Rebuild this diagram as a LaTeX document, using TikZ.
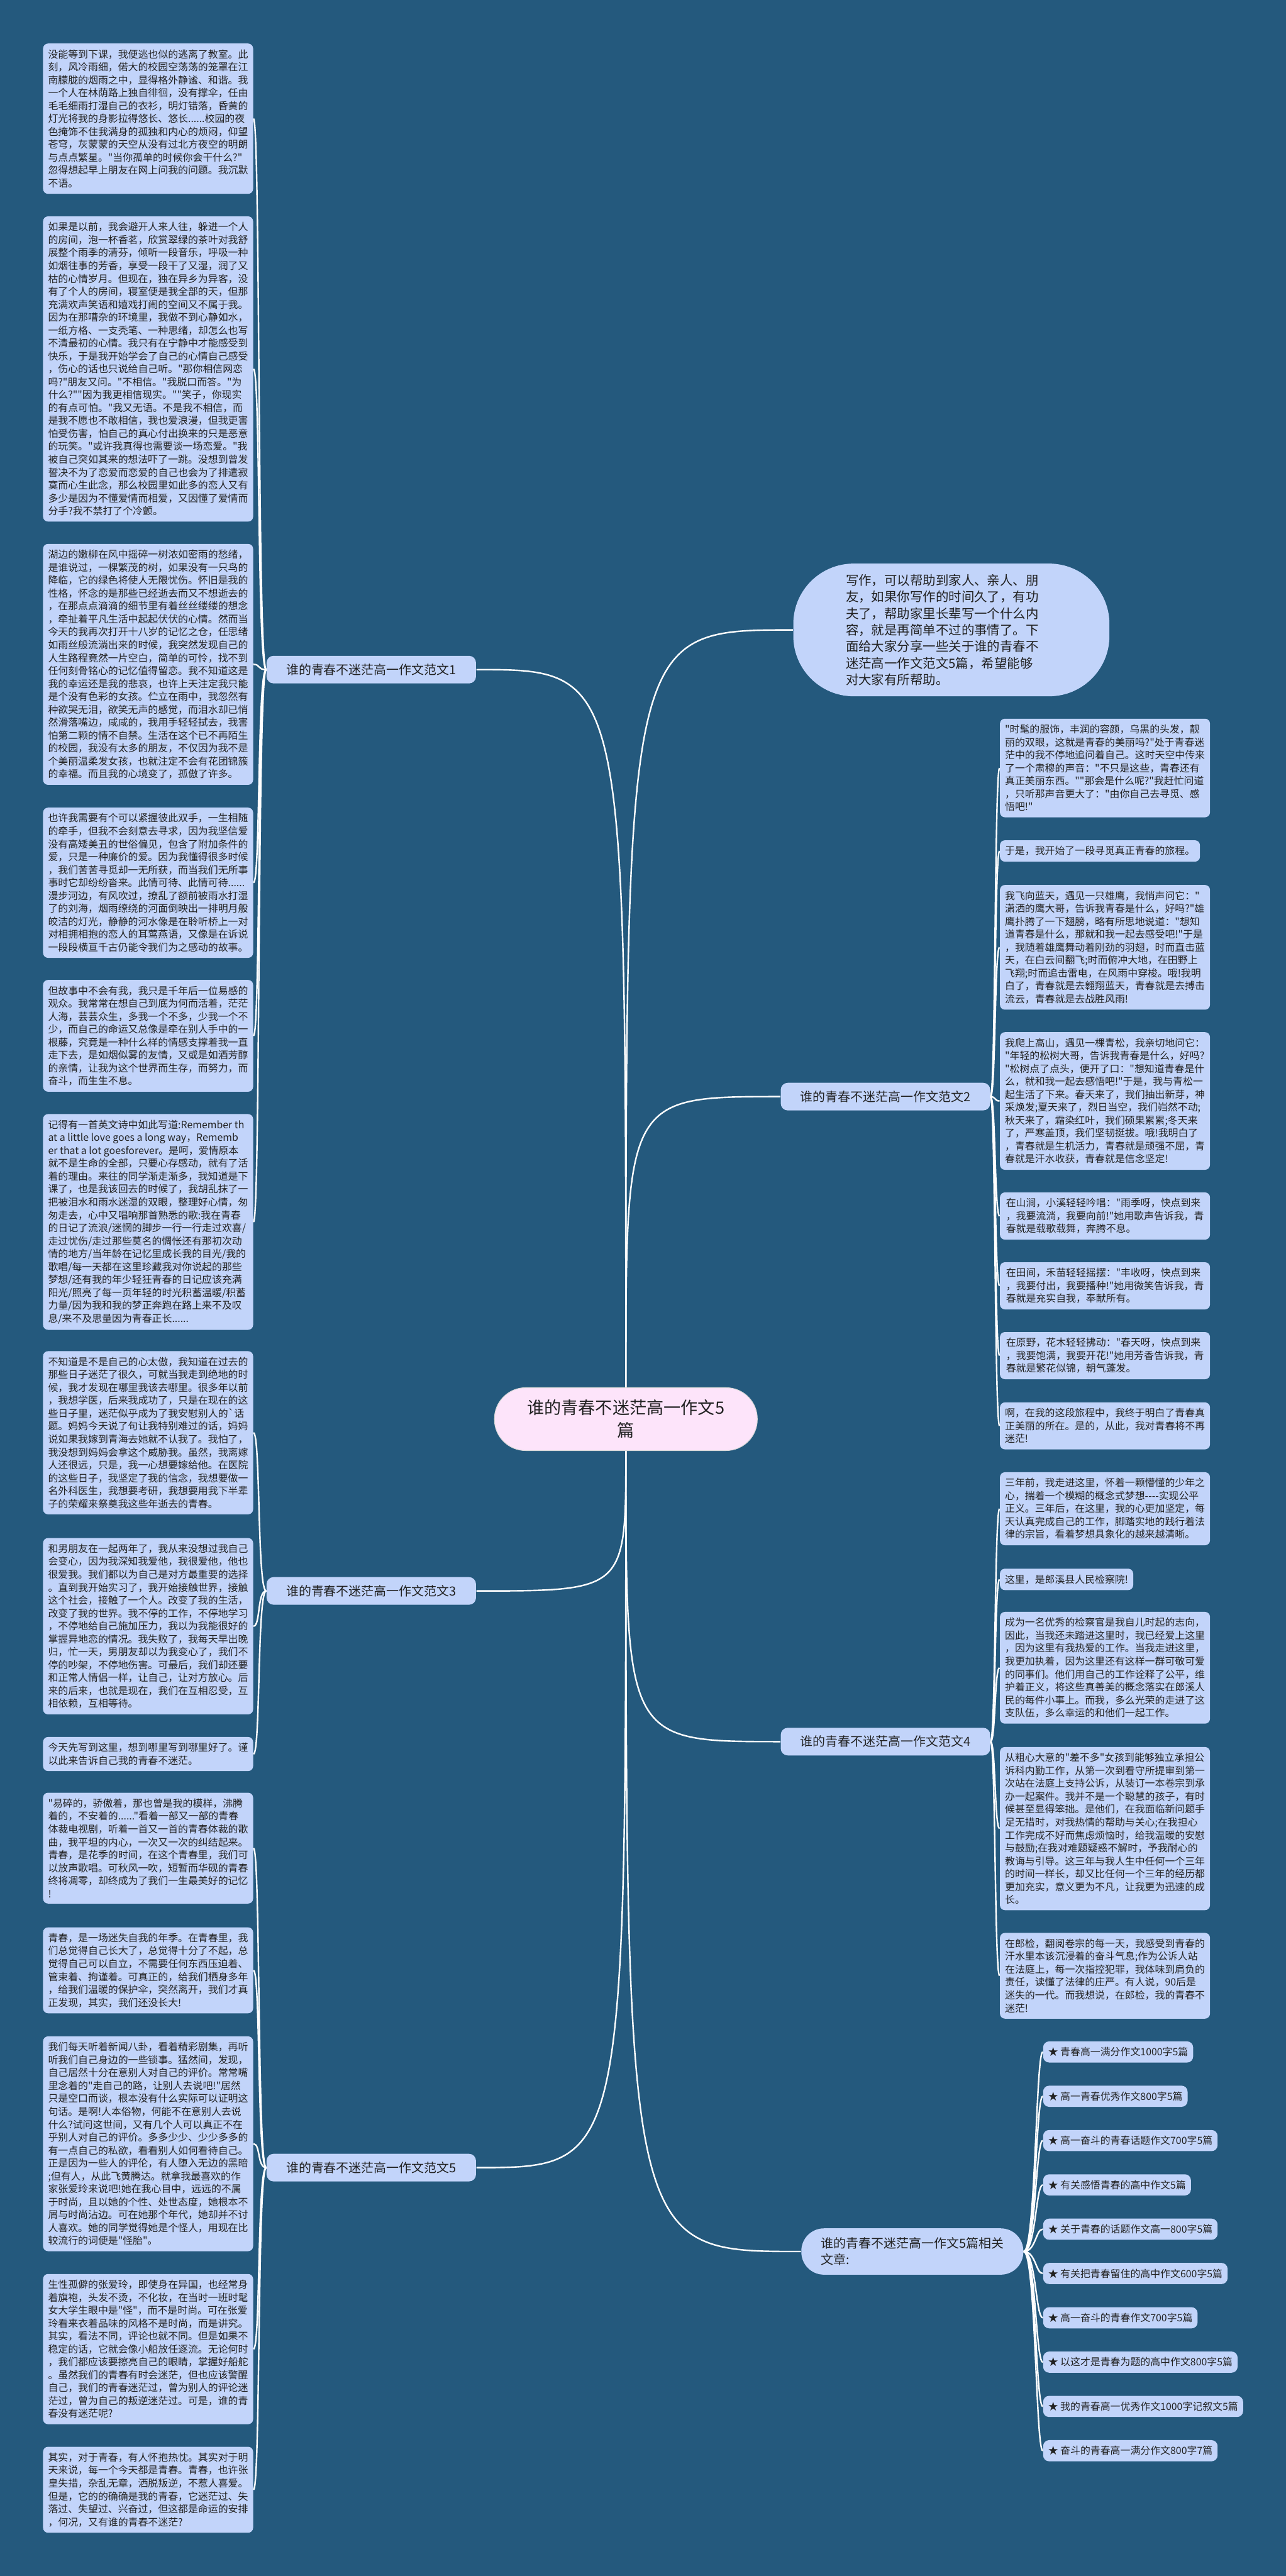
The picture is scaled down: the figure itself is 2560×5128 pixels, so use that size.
\documentclass[tikz,border=0pt]{standalone}
\usepackage{fontspec}
\newfontfamily\cjk{Noto Sans CJK SC}
\usetikzlibrary{positioning}
\definecolor{mapblue}{RGB}{36,89,125}
\definecolor{leafblue}{RGB}{194,212,250}
\definecolor{titlepink}{RGB}{253,228,250}
\definecolor{inkgray}{RGB}{34,34,34}
\newcommand{\leaffont}{\cjk\fontsize{5.66pt}{7.31pt}\selectfont}
\newcommand{\labelfont}{\cjk\fontsize{7.11pt}{9.39pt}\selectfont}
\newcommand{\introfont}{\cjk\fontsize{7.28pt}{9.39pt}\selectfont}
\newcommand{\titlefont}{\cjk\fontsize{9.67pt}{12.8pt}\selectfont}

\tikzset{
  leaf/.style={fill=leafblue, text=inkgray, rounded corners=0.1cm, align=left, font=\leaffont,
    inner xsep=0.1cm, inner ysep=0.118cm, minimum width=4.18cm, anchor=north west},
  leafshort/.style={leaf, minimum width=0pt},
  staritem/.style={leafshort, rounded corners=0.12cm},
  branch/.style={fill=leafblue, text=inkgray, rounded corners=0.14cm, font=\labelfont,
    inner xsep=0.39cm, minimum height=0.55cm},
  link/.style={draw=white, line width=0.03cm},
}

\begin{document}
\begin{tikzpicture}[x=0.01cm, y=-0.01cm]
    \useasboundingbox (0,0) rectangle (2560,5128);
    \fill[mapblue] (0,0) rectangle (2560,5128);

    % centre and introduction
    \node[fill=titlepink, draw=gray!30, text=inkgray, font=\titlefont, align=center,
      minimum width=5.23cm, minimum height=1.25cm, rounded corners=0.62cm] (titleNode) at (1246,2825)
      {谁的青春不迷茫高一作文5\\篇};
    \node[fill=leafblue, text=inkgray, font=\introfont, align=left, text width=4.2cm,
      minimum width=6.29cm, minimum height=2.64cm, rounded corners=1.2cm] (introNode) at (1894,1254)
      {写作，可以帮助到家人、亲人、朋\\友，如果你写作的时间久了，有功\\夫了，帮助家里长辈写一个什么内\\容，就是再简单不过的事情了。下\\面给大家分享一些关于谁的青春不\\迷茫高一作文范文5篇，希望能够\\对大家有所帮助。};

    % branch labels
    \node[branch, anchor=west] (fwLabel-1) at (530,1333) {谁的青春不迷茫高一作文范文1};
    \node[branch, anchor=west] (fwLabel-3) at (530,3167) {谁的青春不迷茫高一作文范文3};
    \node[branch, anchor=west] (fwLabel-5) at (530,4315) {谁的青春不迷茫高一作文范文5};
    \node[branch, anchor=east] (fwLabel-2) at (1972,2183) {谁的青春不迷茫高一作文范文2};
    \node[branch, anchor=east] (fwLabel-4) at (1972,3467) {谁的青春不迷茫高一作文范文4};
    \node[branch, anchor=east, align=left, rounded corners=0.45cm, inner ysep=0.18cm] (relLabel) at (2038,4482)
      {谁的青春不迷茫高一作文5篇相关\\文章:};

    % left column
    \node[leaf] (lb-1) at (85,86) {没能等到下课，我便逃也似的逃离了教室。此\\
刻，风冷雨细，偌大的校园空荡荡的笼罩在江\\
南朦胧的烟雨之中，显得格外静谧、和谐。我\\
一个人在林荫路上独自徘徊，没有撑伞，任由\\
毛毛细雨打湿自己的衣衫，明灯错落，昏黄的\\
灯光将我的身影拉得悠长、悠长......校园的夜\\
色掩饰不住我满身的孤独和内心的烦闷，仰望\\
苍穹，灰蒙蒙的天空从没有过北方夜空的明朗\\
与点点繁星。"当你孤单的时候你会干什么?"\\
忽得想起早上朋友在网上问我的问题。我沉默\\
不语。};
    \node[leaf] (lb-2) at (85,430) {如果是以前，我会避开人来人往，躲进一个人\\
的房间，泡一杯香茗，欣赏翠绿的茶叶对我舒\\
展整个雨季的清芬，倾听一段音乐，呼吸一种\\
如烟往事的芳香，享受一段干了又湿，润了又\\
枯的心情岁月。但现在，独在异乡为异客，没\\
有了个人的房间，寝室便是我全部的天，但那\\
充满欢声笑语和嬉戏打闹的空间又不属于我。\\
因为在那嘈杂的环境里，我做不到心静如水，\\
一纸方格、一支秃笔、一种思绪，却怎么也写\\
不清最初的心情。我只有在宁静中才能感受到\\
快乐，于是我开始学会了自己的心情自己感受\\
，伤心的话也只说给自己听。"那你相信网恋\\
吗?"朋友又问。"不相信。"我脱口而答。"为\\
什么?""因为我更相信现实。""笑子，你现实\\
的有点可怕。"我又无语。不是我不相信，而\\
是我不愿也不敢相信，我也爱浪漫，但我更害\\
怕受伤害，怕自己的真心付出换来的只是恶意\\
的玩笑。"或许我真得也需要谈一场恋爱。"我\\
被自己突如其来的想法吓了一跳。没想到曾发\\
誓决不为了恋爱而恋爱的自己也会为了排遣寂\\
寞而心生此念，那么校园里如此多的恋人又有\\
多少是因为不懂爱情而相爱，又因懂了爱情而\\
分手?我不禁打了个冷颤。};
    \node[leaf] (lb-3) at (85,1082) {湖边的嫩柳在风中摇碎一树浓如密雨的愁绪，\\
是谁说过，一棵繁茂的树，如果没有一只鸟的\\
降临，它的绿色将使人无限忧伤。怀旧是我的\\
性格，怀念的是那些已经逝去而又不想逝去的\\
，在那点点滴滴的细节里有着丝丝缕缕的想念\\
，牵扯着平凡生活中起起伏伏的心情。然而当\\
今天的我再次打开十八岁的记忆之仓，任思绪\\
如雨丝般流淌出来的时候，我突然发现自己的\\
人生路程竟然一片空白，简单的可怜，找不到\\
任何刻骨铭心的记忆值得留恋。我不知道这是\\
我的幸运还是我的悲哀，也许上天注定我只能\\
是个没有色彩的女孩。伫立在雨中，我忽然有\\
种欲哭无泪，欲笑无声的感觉，而泪水却已悄\\
然滑落嘴边，咸咸的，我用手轻轻拭去，我害\\
怕第二颗的情不自禁。生活在这个已不再陌生\\
的校园，我没有太多的朋友，不仅因为我不是\\
个美丽温柔发女孩，也就注定不会有花团锦簇\\
的幸福。而且我的心境变了，孤傲了许多。};
    \node[leaf] (lb-4) at (85,1607) {也许我需要有个可以紧握彼此双手，一生相随\\
的牵手，但我不会刻意去寻求，因为我坚信爱\\
没有高矮美丑的世俗偏见，包含了附加条件的\\
爱，只是一种廉价的爱。因为我懂得很多时候\\
，我们苦苦寻觅却一无所获，而当我们无所事\\
事时它却纷纷沓来。此情可待、此情可待......\\
漫步河边，有风吹过，撩乱了额前被雨水打湿\\
了的刘海，烟雨缭绕的河面倒映出一排明月般\\
皎洁的灯光，静静的河水像是在聆听桥上一对\\
对相拥相抱的恋人的耳莺燕语，又像是在诉说\\
一段段横亘千古仍能令我们为之感动的故事。};
    \node[leaf] (lb-5) at (85,1950) {但故事中不会有我，我只是千年后一位易感的\\
观众。我常常在想自己到底为何而活着，茫茫\\
人海，芸芸众生，多我一个不多，少我一个不\\
少，而自己的命运又总像是牵在别人手中的一\\
根藤，究竟是一种什么样的情感支撑着我一直\\
走下去，是如烟似雾的友情，又或是如酒芳醇\\
的亲情，让我为这个世界而生存，而努力，而\\
奋斗，而生生不息。};
    \node[leaf] (lb-6) at (85,2217) {记得有一首英文诗中如此写道:Remember th\\
at a little love goes a long way，Rememb\\
er that a lot goesforever。是呵，爱情原本\\
就不是生命的全部，只要心存感动，就有了活\\
着的理由。来往的同学渐走渐多，我知道是下\\
课了，也是我该回去的时候了，我胡乱抹了一\\
把被泪水和雨水迷湿的双眼，整理好心情，匆\\
匆走去，心中又唱响那首熟悉的歌:我在青春\\
的日记了流浪/迷惘的脚步一行一行走过欢喜/\\
走过忧伤/走过那些莫名的惆怅还有那初次动\\
情的地方/当年龄在记忆里成长我的目光/我的\\
歌唱/每一天都在这里珍藏我对你说起的那些\\
梦想/还有我的年少轻狂青春的日记应该充满\\
阳光/照亮了每一页年轻的时光积蓄温暖/积蓄\\
力量/因为我和我的梦正奔跑在路上来不及叹\\
息/来不及思量因为青春正长......};
    \node[leaf] (lb-7) at (85,2689) {不知道是不是自己的心太傲，我知道在过去的\\
那些日子迷茫了很久，可就当我走到绝地的时\\
候，我才发现在哪里我该去哪里。很多年以前\\
，我想学医，后来我成功了，只是在现在的这\\
些日子里，迷茫似乎成为了我安慰别人的\textasciigrave 话\\
题。妈妈今天说了句让我特别难过的话，妈妈\\
说如果我嫁到青海去她就不认我了。我怕了，\\
我没想到妈妈会拿这个威胁我。虽然，我离嫁\\
人还很远，只是，我一心想要嫁给他。在医院\\
的这些日子，我坚定了我的信念，我想要做一\\
名外科医生，我想要考研，我想要用我下半辈\\
子的荣耀来祭奠我这些年逝去的青春。};
    \node[leaf] (lb-8) at (85,3061) {和男朋友在一起两年了，我从来没想过我自己\\
会变心，因为我深知我爱他，我很爱他，他也\\
很爱我。我们都以为自己是对方最重要的选择\\
。直到我开始实习了，我开始接触世界，接触\\
这个社会，接触了一个人。改变了我的生活，\\
改变了我的世界。我不停的工作，不停地学习\\
，不停地给自己施加压力，我以为我能很好的\\
掌握异地恋的情况。我失败了，我每天早出晚\\
归，忙一天，男朋友却以为我变心了，我们不\\
停的吵架，不停地伤害。可最后，我们却还要\\
和正常人情侣一样，让自己，让对方放心。后\\
来的后来，也就是现在，我们在互相忍受，互\\
相依赖，互相等待。};
    \node[leaf] (lb-9) at (85,3457) {今天先写到这里，想到哪里写到哪里好了。谨\\
以此来告诉自己我的青春不迷茫。};
    \node[leaf] (lb-10) at (85,3568) {"易碎的，骄傲着，那也曾是我的模样，沸腾\\
着的，不安着的......"看着一部又一部的青春\\
体裁电视剧，听着一首又一首的青春体裁的歌\\
曲，我平坦的内心，一次又一次的纠结起来。\\
青春，是花季的时间，在这个青春里，我们可\\
以放声歌唱。可秋风一吹，短暂而华砚的青春\\
终将凋零，却终成为了我们一生最美好的记忆\\
!};
    \node[leaf] (lb-11) at (85,3836) {青春，是一场迷失自我的年季。在青春里，我\\
们总觉得自己长大了，总觉得十分了不起，总\\
觉得自己可以自立，不需要任何东西压迫着、\\
管束着、拘谨着。可真正的，给我们栖身多年\\
，给我们温暖的保护伞，突然离开，我们才真\\
正发现，其实，我们还没长大!};
    \node[leaf] (lb-12) at (85,4053) {我们每天听着新闻八卦，看着精彩剧集，再听\\
听我们自己身边的一些锁事。猛然间，发现，\\
自己居然十分在意别人对自己的评价。常常嘴\\
里念着的"走自己的路，让别人去说吧!"居然\\
只是空口而谈，根本没有什么实际可以证明这\\
句话。是啊!人本俗物，何能不在意别人去说\\
什么?试问这世间，又有几个人可以真正不在\\
乎别人对自己的评价。多多少少、少少多多的\\
有一点自己的私欲，看看别人如何看待自己。\\
正是因为一些人的评伦，有人堕入无边的黑暗\\
;但有人，从此飞黄腾达。就拿我最喜欢的作\\
家张爱玲来说吧!她在我心目中，远远的不属\\
于时尚，且以她的个性、处世态度，她根本不\\
屑与时尚沾边。可在她那个年代，她却并不讨\\
人喜欢。她的同学觉得她是个怪人，用现在比\\
较流行的词便是"怪胎"。};
    \node[leaf] (lb-13) at (85,4526) {生性孤僻的张爱玲，即使身在异国，也经常身\\
着旗袍，头发不烫，不化妆，在当时一班时髦\\
女大学生眼中是"怪"，而不是时尚。可在张爱\\
玲看来衣着品味的风格不是时尚，而是讲究。\\
其实，看法不同，评论也就不同。但是如果不\\
稳定的话，它就会像小船放任逐流。无论何时\\
，我们都应该要擦亮自己的眼睛，掌握好船舵\\
。虽然我们的青春有时会迷茫，但也应该警醒\\
自己，我们的青春迷茫过，曾为别人的评论迷\\
茫过，曾为自己的叛逆迷茫过。可是，谁的青\\
春没有迷茫呢?};
    \node[leaf] (lb-14) at (85,4870) {其实，对于青春，有人怀抱热忱。其实对于明\\
天来说，每一个今天都是青春。青春，也许张\\
皇失措，杂乱无章，洒脱叛逆，不惹人喜爱。\\
但是，它的的确确是我的青春，它迷茫过、失\\
落过、失望过、兴奋过，但这都是命运的安排\\
，何况，又有谁的青春不迷茫?};

    % right column
    \node[leaf] (rb-1) at (1990,1430) {"时髦的服饰，丰润的容颜，乌黑的头发，靓\\
丽的双眼，这就是青春的美丽吗?"处于青春迷\\
茫中的我不停地追问着自己。这时天空中传来\\
了一个肃穆的声音："不只是这些，青春还有\\
真正美丽东西。""那会是什么呢?"我赶忙问道\\
，只听那声音更大了："由你自己去寻觅、感\\
悟吧!"};
    \node[leafshort] (rb-2) at (1990,1672) {于是，我开始了一段寻觅真正青春的旅程。};
    \node[leaf] (rb-3) at (1990,1761) {我飞向蓝天，遇见一只雄鹰，我悄声问它："\\
潇洒的鹰大哥，告诉我青春是什么，好吗?"雄\\
鹰扑腾了一下翅膀，略有所思地说道："想知\\
道青春是什么，那就和我一起去感受吧!"于是\\
，我随着雄鹰舞动着刚劲的羽翅，时而直击蓝\\
天，在白云间翻飞;时而俯冲大地，在田野上\\
飞翔;时而追击雷电，在风雨中穿梭。哦!我明\\
白了，青春就是去翱翔蓝天，青春就是去搏击\\
流云，青春就是去战胜风雨!};
    \node[leaf] (rb-4) at (1990,2054) {我爬上高山，遇见一棵青松，我亲切地问它：\\
"年轻的松树大哥，告诉我青春是什么，好吗?\\
"松树点了点头，便开了口："想知道青春是什\\
么，就和我一起去感悟吧!"于是，我与青松一\\
起生活了下来。春天来了，我们抽出新芽，神\\
采焕发;夏天来了，烈日当空，我们岿然不动;\\
秋天来了，霜染红叶，我们硕果累累;冬天来\\
了，严寒盖顶，我们坚韧挺拔。哦!我明白了\\
，青春就是生机活力，青春就是顽强不屈，青\\
春就是汗水收获，青春就是信念坚定!};
    \node[leaf] (rb-5) at (1990,2373) {在山涧，小溪轻轻吟唱："雨季呀，快点到来\\
，我要流淌，我要向前!"她用歌声告诉我，青\\
春就是载歌载舞，奔腾不息。};
    \node[leaf] (rb-6) at (1990,2512) {在田间，禾苗轻轻摇摆："丰收呀，快点到来\\
，我要付出，我要播种!"她用微笑告诉我，青\\
春就是充实自我，奉献所有。};
    \node[leaf] (rb-7) at (1990,2651) {在原野，花木轻轻拂动："春天呀，快点到来\\
，我要饱满，我要开花!"她用芳香告诉我，青\\
春就是繁花似锦，朝气蓬发。};
    \node[leaf] (rb-8) at (1990,2791) {啊，在我的这段旅程中，我终于明白了青春真\\
正美丽的所在。是的，从此，我对青春将不再\\
迷茫!};
    \node[leaf] (rb-9) at (1990,2930) {三年前，我走进这里，怀着一颗懵懂的少年之\\
心，揣着一个模糊的概念式梦想-{}-{}-{}-实现公平\\
正义。三年后，在这里，我的心更加坚定，每\\
天认真完成自己的工作，脚踏实地的践行着法\\
律的宗旨，看着梦想具象化的越来越清晰。};
    \node[leafshort] (rb-10) at (1990,3122) {这里，是郎溪县人民检察院!};
    \node[leaf] (rb-11) at (1990,3208) {成为一名优秀的检察官是我自儿时起的志向，\\
因此，当我还未踏进这里时，我已经爱上这里\\
，因为这里有我热爱的工作。当我走进这里，\\
我更加执着，因为这里还有这样一群可敬可爱\\
的同事们。他们用自己的工作诠释了公平，维\\
护着正义，将这些真善美的概念落实在郎溪人\\
民的每件小事上。而我，多么光荣的走进了这\\
支队伍，多么幸运的和他们一起工作。};
    \node[leaf] (rb-12) at (1990,3477) {从粗心大意的"差不多"女孩到能够独立承担公\\
诉科内勤工作，从第一次到看守所提审到第一\\
次站在法庭上支持公诉，从装订一本卷宗到承\\
办一起案件。我并不是一个聪慧的孩子，有时\\
候甚至显得笨拙。是他们，在我面临新问题手\\
足无措时，对我热情的帮助与关心;在我担心\\
工作完成不好而焦虑烦恼时，给我温暖的安慰\\
与鼓励;在我对难题疑惑不解时，予我耐心的\\
教诲与引导。这三年与我人生中任何一个三年\\
的时间一样长，却又比任何一个三年的经历都\\
更加充实，意义更为不凡，让我更为迅速的成\\
长。};
    \node[leaf] (rb-13) at (1990,3847) {在郎检，翻阅卷宗的每一天，我感受到青春的\\
汗水里本该沉浸着的奋斗气息;作为公诉人站\\
在法庭上，每一次指控犯罪，我体味到肩负的\\
责任，读懂了法律的庄严。有人说，90后是\\
迷失的一代。而我想说，在郎检，我的青春不\\
迷茫!};

    % related articles
    \foreach \t [count=\i] in {青春高一满分作文1000字5篇, 高一青春优秀作文800字5篇,
        高一奋斗的青春话题作文700字5篇, 有关感悟青春的高中作文5篇,
        关于青春的话题作文高一800字5篇, 有关把青春留住的高中作文600字5篇,
        高一奋斗的青春作文700字5篇, 以这才是青春为题的高中作文800字5篇,
        我的青春高一优秀作文1000字记叙文5篇, 奋斗的青春高一满分作文800字7篇}{
        \node[staritem] (rel-\i) at (2076,{4063+88.2*(\i-1)}) {★ \t};
    }

    % links from the centre
    \draw[link] (titleNode.north) .. controls (titleNode.north |- fwLabel-1.east) .. (fwLabel-1.east);
    \draw[link] (titleNode.north) .. controls (titleNode.north |- introNode.west) .. (introNode.west);
    \draw[link] (titleNode.north) .. controls (titleNode.north |- fwLabel-2.west) .. (fwLabel-2.west);
    \draw[link] (titleNode.south) .. controls (titleNode.south |- fwLabel-3.east) .. (fwLabel-3.east);
    \draw[link] (titleNode.south) .. controls (titleNode.south |- fwLabel-5.east) .. (fwLabel-5.east);
    \draw[link] (titleNode.south) .. controls (titleNode.south |- fwLabel-4.west) .. (fwLabel-4.west);
    \draw[link] (titleNode.south) .. controls (titleNode.south |- relLabel.west) .. (relLabel.west);

    % links to the essays
    \foreach \i in {1,...,6}  \draw[link] (fwLabel-1.west) .. controls +(-18,0) and +(14,0) .. (lb-\i.east);
    \foreach \i in {7,8,9}    \draw[link] (fwLabel-3.west) .. controls +(-18,0) and +(14,0) .. (lb-\i.east);
    \foreach \i in {10,...,14}\draw[link] (fwLabel-5.west) .. controls +(-18,0) and +(14,0) .. (lb-\i.east);
    \foreach \i in {1,...,8}  \draw[link] (fwLabel-2.east) .. controls +(10,0) and +(-10,0) .. (rb-\i.west);
    \foreach \i in {9,...,13} \draw[link] (fwLabel-4.east) .. controls +(10,0) and +(-10,0) .. (rb-\i.west);
    \foreach \i in {1,...,10} \draw[link] (relLabel.east) .. controls +(24,0) and +(-14,0) .. (rel-\i.west);
\end{tikzpicture}
\end{document}
